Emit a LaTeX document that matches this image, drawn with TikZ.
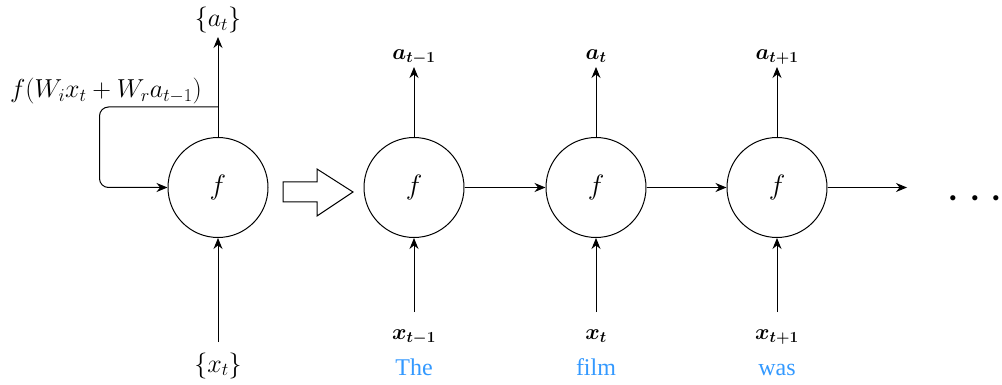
\RequirePackage{fix-cm}
\documentclass[tikz,border=0pt]{standalone}
\usepackage{fontspec}
\usepackage{bm}
\newfontfamily\wordfont{Liberation Serif}
\usetikzlibrary{arrows.meta,calc}
\definecolor{wordblue}{RGB}{51,153,255}
\begin{document}
\begin{tikzpicture}[x=1pt,y=-1pt,
  cell/.style={draw, circle, minimum size=100pt, inner sep=0pt, line width=1pt, font=\fontsize{28}{32}\selectfont},
  arr/.style={line width=1pt, -{Stealth[length=11pt,width=9pt]}},
  biglbl/.style={inner sep=0pt, font=\fontsize{26}{30}\selectfont},
  lbl/.style={inner sep=0pt, font=\fontsize{22}{26}\selectfont},
  word/.style={inner sep=0pt, text=wordblue, font=\wordfont\fontsize{24}{28}\selectfont}]
\useasboundingbox (0,0) rectangle (1002,385);
% folded RNN
\node[cell] (c0) at (218,187.5) {$f$};
\node[biglbl, anchor=base] (a0) at (218,27) {$\{a_t\}$};
\node[biglbl, anchor=base] (x0) at (218,372) {$\{x_t\}$};
\node[biglbl, anchor=base] (fl) at (106,98) {$f(W_ix_t+W_ra_{t-1})$};
\coordinate (t0) at (218,37);
\coordinate (b0) at (218,342);
\coordinate (fb) at (218,107);
\draw[arr] (c0.north) -- (t0);
\draw[arr] (b0) -- (c0.south);
\draw[arr, rounded corners=9pt] (fb) -| ([xshift=-68pt]c0.west) -- (c0.west);
% hollow arrow
\draw[line width=1pt, line join=miter] (283,182) -- (317,182) -- (317,169) -- (353,192) -- (317,216) -- (317,202) -- (283,202) -- cycle;
% unrolled RNN
\foreach \i/\x/\al/\xl/\w in {1/414/{a_{t-1}}/{x_{t-1}}/The, 2/596/{a_t}/{x_t}/film, 3/777/{a_{t+1}}/{x_{t+1}}/was}{
  \node[cell] (c\i) at (\x,187.5) {$f$};
  \node[lbl, anchor=base] (a\i) at (\x,59.5) {$\bm{\al}$};
  \node[lbl, anchor=base] (x\i) at (\x,339) {$\bm{\xl}$};
  \node[word, anchor=base] (w\i) at (\x,375) {\w};
  \coordinate (t\i) at (\x,67);
  \coordinate (b\i) at (\x,312);
  \draw[arr] (c\i.north) -- (t\i);
  \draw[arr] (b\i) -- (c\i.south);
}
\draw[arr] (c1.east) -- (c2.west);
\draw[arr] (c2.east) -- (c3.west);
\coordinate (end) at (907,187.5);
\draw[arr] (c3.east) -- (end);
\node[inner sep=0pt, font=\fontsize{49}{49}\selectfont, anchor=base] (dots) at (975,211) {$\cdots$};
\end{tikzpicture}
\end{document}
